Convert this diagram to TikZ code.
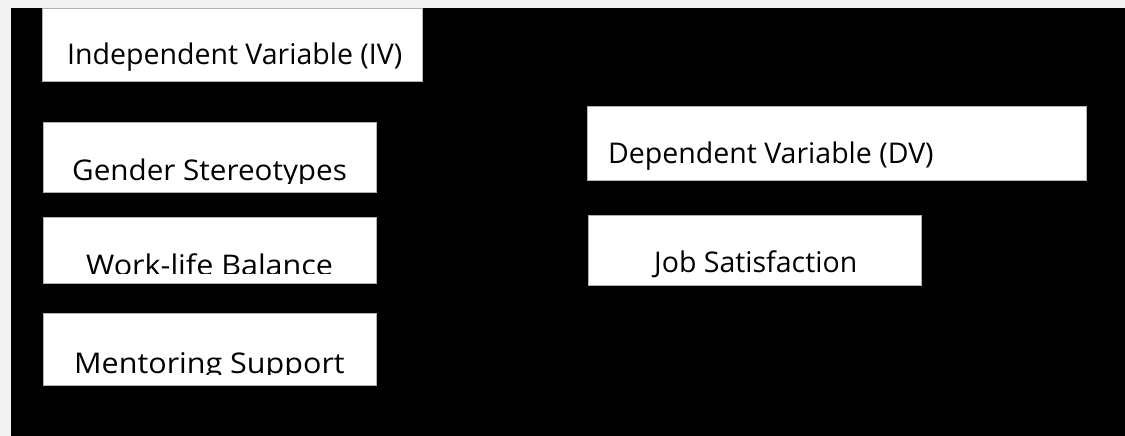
\documentclass[tikz,border=0pt]{standalone}
\usepackage{fontspec}
\setmainfont{Open Sans}
\begin{document}
\begin{tikzpicture}[x=1pt,y=-1pt,
  box/.style={draw=gray!60,line width=0.6pt,fill=white,anchor=north west,inner sep=0pt},
  lbl/.style={anchor=base west,inner sep=0pt,font=\fontsize{28.5}{34}\selectfont}]
\useasboundingbox (0,0) rectangle (1125,436);
\fill[gray!10] (0,0) rectangle (1125,436);
\fill[black] (11,8) rectangle (1125,436);
% boxes
\node[box,minimum width=380,minimum height=73] (ivbox) at (42,8) {};
\node[box,minimum width=333,minimum height=70] (gsbox) at (43,122) {};
\node[box,minimum width=333,minimum height=66] (wlbox) at (43,217) {};
\node[box,minimum width=333,minimum height=72] (msbox) at (43,313) {};
\node[box,minimum width=499,minimum height=74] (dvbox) at (587,106) {};
\node[box,minimum width=333,minimum height=70] (jsbox) at (588,215) {};
% labels
\node[lbl] (iv) at (67,64.3) {Independent Variable (IV)};
\begin{scope}
\clip (43,122) rectangle (376,183.5);
\node[lbl] (gs) at (72,180.5) {\scalebox{1.04}[1]{Gender Stereotypes}};
\end{scope}
\begin{scope}
\clip (43,217) rectangle (376,273.5);
\node[lbl] (wl) at (86,275.5) {\scalebox{1.07}[1]{Work-life Balance}};
\end{scope}
\begin{scope}
\clip (43,313) rectangle (376,374.5);
\node[lbl] (ms) at (74,373) {\scalebox{1.07}[1]{Mentoring Support}};
\end{scope}
\node[lbl] (dv) at (608,163) {Dependent Variable (DV)};
\node[lbl] (js) at (654,272.7) {Job Satisfaction};
\end{tikzpicture}
\end{document}
